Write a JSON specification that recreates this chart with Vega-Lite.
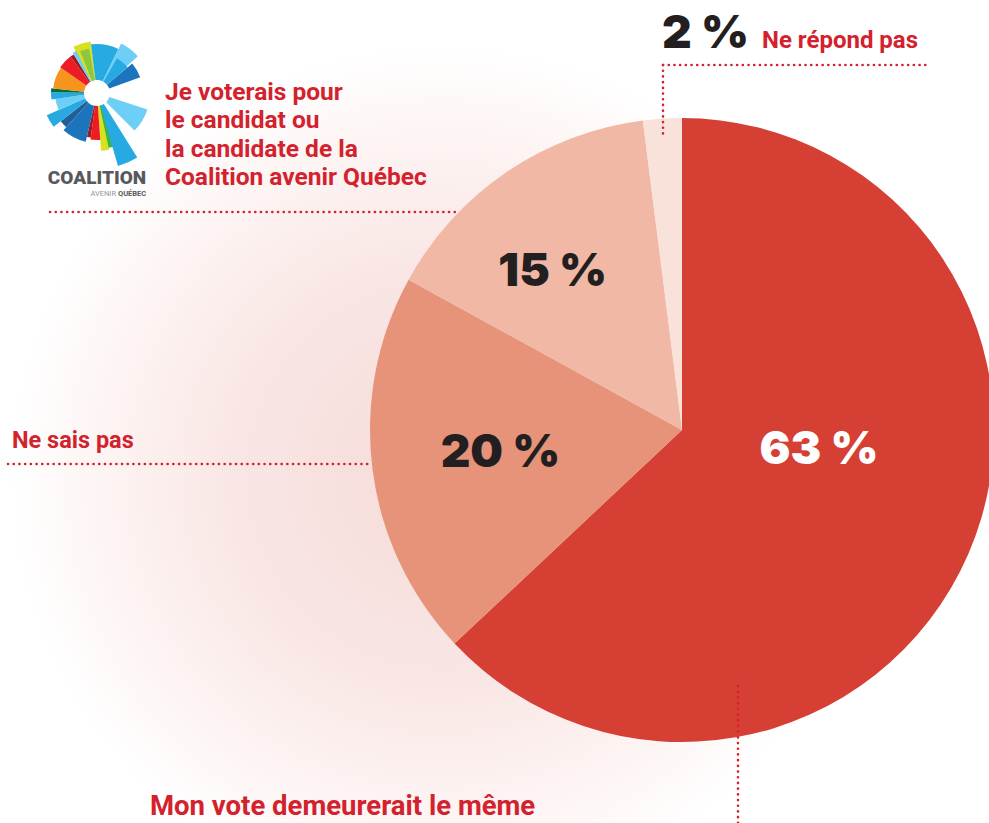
{
  "$schema": "https://vega.github.io/schema/vega-lite/v6.json",
  "width": 989,
  "height": 823,
  "autosize": {"type": "none"},
  "padding": 0,
  "background": "#ffffff",
  "config": {"view": {"stroke": null}, "font": "Roboto"},
  "datasets": {
    "pie": [
      {"cat": "Mon vote demeurerait le même", "value": 63, "o": 1, "label": "63 %"},
      {"cat": "Ne sais pas", "value": 20, "o": 2, "label": "20 %"},
      {"cat": "Je voterais pour le candidat ou la candidate de la Coalition avenir Québec", "value": 15, "o": 3, "label": "15 %"},
      {"cat": "Ne répond pas", "value": 2, "o": 4, "label": "2 %"}
    ],
    "logo": [
      {"a0": 333, "a1": 353, "r": 52, "c": "y"},
      {"a0": 338, "a1": 350, "r": 45, "c": "lg"},
      {"a0": 353, "a1": 360, "r": 49, "c": "b"},
      {"a0": 0, "a1": 26, "r": 49, "c": "b"},
      {"a0": 26, "a1": 48, "r": 55, "c": "lb"},
      {"a0": 30, "a1": 50, "r": 40, "c": "b"},
      {"a0": 50, "a1": 70, "r": 46, "c": "db"},
      {"a0": 108, "a1": 135, "r": 53, "c": "lb"},
      {"a0": 156, "a1": 170, "r": 56, "c": "g"},
      {"a0": 168, "a1": 176, "r": 58, "c": "y"},
      {"a0": 176, "a1": 188, "r": 47, "c": "r"},
      {"a0": 188, "a1": 193, "r": 45, "c": "dr"},
      {"a0": 193, "a1": 222, "r": 50, "c": "db"},
      {"a0": 222, "a1": 232, "r": 46, "c": "nb"},
      {"a0": 232, "a1": 246, "r": 55, "c": "b"},
      {"a0": 246, "a1": 262, "r": 42, "c": "lb"},
      {"a0": 262, "a1": 271, "r": 46, "c": "b"},
      {"a0": 271, "a1": 276, "r": 46, "c": "dg"},
      {"a0": 276, "a1": 305, "r": 44, "c": "o"},
      {"a0": 305, "a1": 324, "r": 45, "c": "r"},
      {"a0": 324, "a1": 329, "r": 45, "c": "dr"},
      {"a0": 329, "a1": 334, "r": 47, "c": "lb"},
      {"a0": 148, "a1": 164, "r": 76, "c": "b"}
    ]
  },
  "layer": [
    {
      "data": {"values": [{}]},
      "mark": {
        "type": "arc", "x": 440, "y": 475, "radius": 430, "theta": 0, "theta2": 6.2832,
        "fill": {"gradient": "radial", "x1": 0.5, "y1": 0.5, "r1": 0, "x2": 0.5, "y2": 0.5, "r2": 0.5,
          "stops": [{"offset": 0, "color": "#f5dbd9"}, {"offset": 0.5, "color": "#f9e7e5"}, {"offset": 0.8, "color": "#fdf5f4"}, {"offset": 1, "color": "#ffffff"}]}
      },
      "encoding": {}
    },
    {
      "data": {"name": "pie"},
      "mark": {"type": "arc", "x": 682, "y": 430, "radius": 312},
      "encoding": {
        "theta": {"field": "value", "type": "quantitative", "stack": true},
        "order": {"field": "o", "type": "quantitative"},
        "color": {"field": "cat", "type": "nominal", "legend": null,
          "scale": {"domain": ["Mon vote demeurerait le même", "Ne sais pas", "Je voterais pour le candidat ou la candidate de la Coalition avenir Québec", "Ne répond pas"],
            "range": ["#d63f33", "#e6937a", "#f0b8a5", "#f9e2da"]}}
      }
    },
    {
      "data": {"name": "pie"},
      "mark": {"type": "text", "x": 682, "y": 430, "radius": 183, "font": "Inter", "fontWeight": 900, "fontSize": 46, "color": "#231f20", "baseline": "middle", "align": "center"},
      "encoding": {
        "theta": {"field": "value", "type": "quantitative", "stack": true},
        "order": {"field": "o", "type": "quantitative"},
        "text": {"condition": {"test": "datum.o === 2", "field": "label"}, "value": ""}
      }
    },
    {
      "data": {"name": "pie"},
      "mark": {"type": "text", "x": 682, "y": 430, "radius": 191, "dx": -22, "font": "Inter", "fontWeight": 900, "fontSize": 46, "color": "#231f20", "baseline": "middle", "align": "center"},
      "encoding": {
        "theta": {"field": "value", "type": "quantitative", "stack": true},
        "order": {"field": "o", "type": "quantitative"},
        "text": {"condition": {"test": "datum.o === 3", "field": "label"}, "value": ""}
      }
    },
    {
      "data": {"name": "pie"},
      "mark": {"type": "text", "x": 682, "y": 430, "radius": 147, "dy": -38, "dx": 2, "font": "Inter", "fontWeight": 900, "fontSize": 46, "color": "#ffffff", "baseline": "middle", "align": "center"},
      "encoding": {
        "theta": {"field": "value", "type": "quantitative", "stack": true},
        "order": {"field": "o", "type": "quantitative"},
        "text": {"condition": {"test": "datum.o === 1", "field": "label"}, "value": ""}
      }
    },
    {
      "data": {"name": "pie"},
      "transform": [{"filter": "datum.o === 4"}],
      "mark": {"type": "text", "x": 662, "y": 48, "font": "Inter", "fontWeight": 900, "fontSize": 46, "color": "#231f20", "baseline": "alphabetic", "align": "left"},
      "encoding": {"text": {"field": "label"}}
    },
    {
      "data": {"values": [{}]},
      "mark": {"type": "text", "x": 762, "y": 48, "text": "Ne répond pas", "fontWeight": "bold", "fontSize": 24, "color": "#d3222d", "align": "left", "baseline": "alphabetic"},
      "encoding": {}
    },
    {
      "data": {"values": [{}]},
      "mark": {"type": "text", "x": 165, "y": 100, "text": ["Je voterais pour", "le candidat ou", "la candidate de la", "Coalition avenir Québec"], "lineHeight": 28.3, "fontWeight": "bold", "fontSize": 24.5, "color": "#d3222d", "align": "left", "baseline": "alphabetic"},
      "encoding": {}
    },
    {
      "data": {"values": [{}]},
      "mark": {"type": "text", "x": 12, "y": 448, "text": "Ne sais pas", "fontWeight": "bold", "fontSize": 23.5, "color": "#d3222d", "align": "left", "baseline": "alphabetic"},
      "encoding": {}
    },
    {
      "data": {"values": [{}]},
      "mark": {"type": "text", "x": 150, "y": 815, "text": "Mon vote demeurerait le même", "fontWeight": "bold", "fontSize": 27.5, "color": "#d3222d", "align": "left", "baseline": "alphabetic"},
      "encoding": {}
    },
    {
      "data": {"values": [{}]},
      "mark": {"type": "rule", "color": "#d3222d", "strokeWidth": 2.6, "strokeDash": [0.1, 5.6], "strokeCap": "round"},
      "encoding": {"x": {"value": 50}, "x2": {"value": 458}, "y": {"value": 212}}
    },
    {
      "data": {"values": [{}]},
      "mark": {"type": "rule", "color": "#d3222d", "strokeWidth": 2.6, "strokeDash": [0.1, 5.6], "strokeCap": "round"},
      "encoding": {"x": {"value": 663}, "x2": {"value": 927}, "y": {"value": 65}}
    },
    {
      "data": {"values": [{}]},
      "mark": {"type": "rule", "color": "#d3222d", "strokeWidth": 2.6, "strokeDash": [0.1, 5.6], "strokeCap": "round"},
      "encoding": {"x": {"value": 663}, "y": {"value": 65}, "y2": {"value": 137}}
    },
    {
      "data": {"values": [{}]},
      "mark": {"type": "rule", "color": "#d3222d", "strokeWidth": 2.6, "strokeDash": [0.1, 5.6], "strokeCap": "round"},
      "encoding": {"x": {"value": 8}, "x2": {"value": 372}, "y": {"value": 464}}
    },
    {
      "data": {"values": [{}]},
      "mark": {"type": "rule", "color": "#d3222d", "strokeWidth": 2.6, "strokeDash": [0.1, 5.6], "strokeCap": "round"},
      "encoding": {"x": {"value": 738}, "y": {"value": 686}, "y2": {"value": 823}}
    },
    {
      "data": {"name": "logo"},
      "mark": {"type": "arc", "x": 97, "y": 93, "radius2": 13},
      "encoding": {
        "theta": {"field": "a0", "type": "quantitative", "stack": null, "scale": {"domain": [0, 360], "range": [0, 6.2832]}},
        "theta2": {"field": "a1"},
        "radius": {"field": "r", "type": "quantitative", "scale": {"type": "linear", "domain": [0, 80], "range": [0, 80], "zero": true}},
        "color": {"field": "c", "type": "nominal", "legend": null,
          "scale": {"domain": ["lb", "b", "db", "nb", "g", "lg", "y", "r", "dr", "o", "dg"],
            "range": ["#6dcff6", "#27aae1", "#1c75bc", "#215f9a", "#39b54a", "#8dc63f", "#d7e021", "#ed1c24", "#9e1b21", "#f7941d", "#00703c"]}}
      }
    },
    {
      "data": {"values": [{}]},
      "mark": {"type": "text", "x": 97, "y": 184, "text": "COALITION", "fontWeight": 900, "fontSize": 19, "color": "#58595b", "align": "center", "baseline": "alphabetic"},
      "encoding": {}
    },
    {
      "data": {"values": [{}]},
      "mark": {"type": "text", "x": 116, "y": 196, "text": "AVENIR", "fontSize": 7.5, "color": "#939598", "align": "right", "baseline": "alphabetic"},
      "encoding": {}
    },
    {
      "data": {"values": [{}]},
      "mark": {"type": "text", "x": 118, "y": 196, "text": "QUÉBEC", "fontWeight": "bold", "fontSize": 7.5, "color": "#58595b", "align": "left", "baseline": "alphabetic"},
      "encoding": {}
    }
  ],
  "resolve": {"scale": {"theta": "independent", "radius": "independent", "color": "independent"}}
}
